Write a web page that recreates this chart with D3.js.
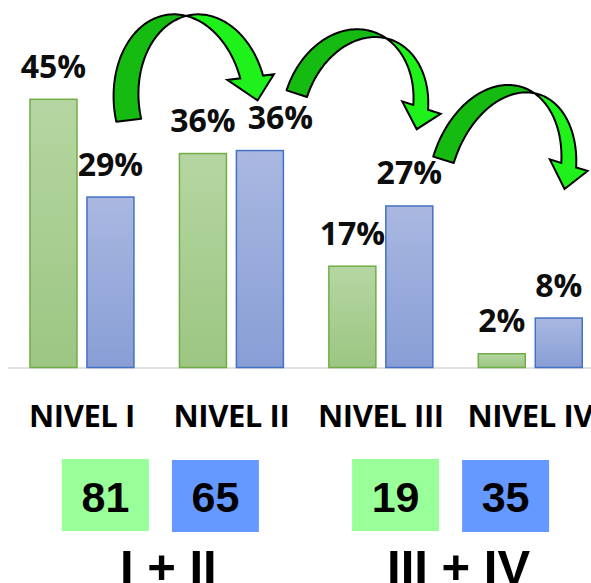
<!DOCTYPE html>
<html><head><meta charset="utf-8">
<script src="https://cdn.jsdelivr.net/npm/d3@7"></script>
<style>html,body{margin:0;padding:0;background:#fff;overflow:hidden}</style>
</head><body>
<svg id="chart" width="591" height="583"></svg>
<script>
// ---------- data ----------
const categories = ["NIVEL I", "NIVEL II", "NIVEL III", "NIVEL IV"];
const seriesKeys = ["green", "blue"];
const greenValues = [45, 35.9, 17, 2.3];
const blueValues = [28.6, 36.4, 27.1, 8.3];
const groupLabels = ["I + II", "III + IV"];
const groupMembers = [[0, 1], [2, 3]];

// ---------- styles / layout ----------
const fills = {
  green: { top: "#b5d6a2", bottom: "#9cc682", stroke: "#70ad47" },
  blue: { top: "#aab8e1", bottom: "#889ed5", stroke: "#4472c4" }
};
const boxFills = { green: "#99ff99", blue: "#6699ff" };

const svg = d3.select("#chart");
const defs = svg.append("defs");
seriesKeys.forEach(k => {
  const g = defs.append("linearGradient").attr("id", "grad-" + k)
    .attr("x1", 0).attr("y1", 0).attr("x2", 0).attr("y2", 1);
  g.append("stop").attr("offset", "0%").attr("stop-color", fills[k].top);
  g.append("stop").attr("offset", "100%").attr("stop-color", fills[k].bottom);
});

const x0 = d3.scaleBand().domain(categories).range([7.25, 605]).paddingInner(0).paddingOuter(0);
const x1 = d3.scaleBand().domain(seriesKeys).range([0, x0.bandwidth()]).paddingInner(0.175).paddingOuter(0.399);
const y = d3.scaleLinear().domain([0, 50]).range([367.5, 69.5]);

const rows = categories.map((c, i) => ({
  cat: c,
  vals: [{ key: "green", v: greenValues[i] }, { key: "blue", v: blueValues[i] }]
}));

// axis
const axis = svg.append("g").attr("transform", `translate(0,${y(0)})`)
  .call(d3.axisBottom(x0).tickSize(0).tickSizeOuter(0));
axis.select(".domain").attr("stroke", "#d9d9d9").attr("stroke-width", 1.5);
axis.selectAll(".tick text")
  .attr("y", 0).attr("dy", 59)
  .attr("font-family", "'Open Sans', 'Noto Sans', sans-serif")
  .attr("font-weight", 700).attr("font-size", 31).attr("fill", "#000")
  .attr("letter-spacing", -0.4);

// bars
const grp = svg.append("g").selectAll("g").data(rows).join("g")
  .attr("transform", d => `translate(${x0(d.cat)},0)`);
grp.selectAll("rect").data(d => d.vals).join("rect")
  .attr("x", d => x1(d.key)).attr("width", x1.bandwidth())
  .attr("y", d => y(d.v)).attr("height", d => y(0) - y(d.v))
  .attr("fill", d => `url(#grad-${d.key})`)
  .attr("stroke", d => fills[d.key].stroke).attr("stroke-width", 1.5);

// value labels
const fmt = v => Math.round(v) + "%";
grp.selectAll("text.val").data(d => d.vals).join("text")
  .attr("class", "val")
  .attr("x", d => x1(d.key) + x1.bandwidth() / 2)
  .attr("y", d => y(d.v) - 21.5)
  .attr("text-anchor", "middle")
  .attr("font-family", "'Open Sans', 'Noto Sans', sans-serif")
  .attr("font-weight", 700).attr("font-size", 32).attr("fill", "#0d0d0d")
  .text(d => fmt(d.v));
// avoid overlap between the two labels of a group
grp.each(function () {
  const t = d3.select(this).selectAll("text.val").nodes();
  const b0 = t[0].getBBox(), b1 = t[1].getBBox();
  const gap = 12;
  if (b1.x < b0.x + b0.width + 2 && Math.abs(b1.y - b0.y) < b0.height) {
    const shift = b0.x + b0.width + gap - b1.x;
    d3.select(t[1]).attr("x", +d3.select(t[1]).attr("x") + shift);
  }
});

// ---------- summary boxes ----------
const sums = groupMembers.map(m => ({
  green: d3.sum(m, i => Math.round(greenValues[i])),
  blue: d3.sum(m, i => Math.round(blueValues[i]))
}));
const gx = d3.scaleBand().domain(groupLabels).range([15.3, 595.7]);
const boxW = 87, boxH = 72, boxStep = 110;
const boxG = svg.append("g");
groupLabels.forEach((gl, gi) => {
  const cx = gx(gl) + gx.bandwidth() / 2;
  seriesKeys.forEach((k, si) => {
    const bx = cx + (si - 0.5) * boxStep;
    const by = 459 + si;
    boxG.append("rect").attr("x", bx - boxW / 2).attr("y", by)
      .attr("width", boxW).attr("height", boxH).attr("fill", boxFills[k]);
    boxG.append("text").attr("x", bx).attr("y", 511.7)
      .attr("text-anchor", "middle")
      .attr("font-family", "'Liberation Sans', Arial, sans-serif")
      .attr("font-weight", 700).attr("font-size", 43).attr("fill", "#000")
      .text(sums[gi][k]);
  });
  boxG.append("text").attr("x", cx + 8).attr("y", 583.5)
    .attr("text-anchor", "middle")
    .attr("font-family", "'Liberation Sans', Arial, sans-serif")
    .attr("font-weight", 700).attr("font-size", 49).attr("fill", "#000")
    .text(gl);
});

// ---------- curved arrows (annotations) ----------
const arrows = [
  { cx: 179, cy: 103, rot: -7, L: { x: 0, a: 65, b: 89 }, R: { x: 24, a: 64, b: 86 }, d: 11, yn: -17, hI: 13, hO: 11, hl: 24, tipDx: 3 },
  { cx: 347.6, cy: 109.7, rot: 18, L: { x: 0, a: 64, b: 82 }, R: { x: 18.5, a: 61, b: 80 }, d: 0.5, yn: -24.8, hI: 11.6, hO: 13.3, hl: 22, tipDx: 3 },
  { cx: 494.6, cy: 174.9, rot: 17, L: { x: 0, a: 64, b: 92 }, R: { x: 18.5, a: 61, b: 90 }, d: 0.5, yn: -31, hI: 12, hO: 12, hl: 24, tipDx: 3 }
];
const ellPt = (E, phi) => [E.x + E.a * Math.cos(phi), -E.b * Math.sin(phi)];
const yOn = (E, xx) => { const u = (xx - E.x) / E.a; return -E.b * Math.sqrt(Math.max(0, 1 - u * u)); };
const arc = (E, p0, p1, n) => d3.range(n + 1).map(i => ellPt(E, p0 + (p1 - p0) * i / n));

const arrowG = svg.append("g");
arrows.forEach(p => {
  const { L, R } = p;
  const f = xx => yOn(L, xx) - yOn(R, xx);
  let lo = L.x, hi = L.x;
  for (let xx = L.x; xx < L.x + L.a; xx += 0.5) { if (f(xx) > 0) { hi = xx; break; } lo = xx; }
  for (let k = 0; k < 40; k++) { const m = (lo + hi) / 2; if (f(m) > 0) hi = m; else lo = m; }
  const xc = (lo + hi) / 2;
  const pLc = Math.acos((xc - L.x) / L.a), pRc = Math.acos((xc - R.x) / R.a);
  const pLt = Math.PI + Math.asin(p.d / L.b), pRt = Math.PI + Math.asin(p.d / R.b);
  const pLn = Math.asin(-p.yn / L.b), pRn = Math.asin(-p.yn / R.b);

  const dark = arc(L, pLt, pLc, 60).concat(arc(R, pRc, pRt, 60));
  const NO = ellPt(R, pRn), NI = ellPt(L, pLn);
  const mid = (NO[0] + NI[0]) / 2;
  const light = arc(R, pRc, pRn, 60)
    .concat([[NO[0] + p.hO, p.yn], [mid + p.tipDx, p.yn + p.hl], [NI[0] - p.hI, p.yn]])
    .concat(arc(L, pLn, pLc, 60));
  const line = d3.line().curve(d3.curveLinearClosed);
  const g = arrowG.append("g").attr("transform", `translate(${p.cx},${p.cy}) rotate(${p.rot})`);
  g.append("path").attr("d", line(dark)).attr("fill", "#15bb10")
    .attr("stroke", "#000").attr("stroke-width", 2).attr("stroke-linejoin", "round");
  g.append("path").attr("d", line(light)).attr("fill", "#1ff21a")
    .attr("stroke", "#000").attr("stroke-width", 2).attr("stroke-linejoin", "miter");
});
</script>
</body></html>
